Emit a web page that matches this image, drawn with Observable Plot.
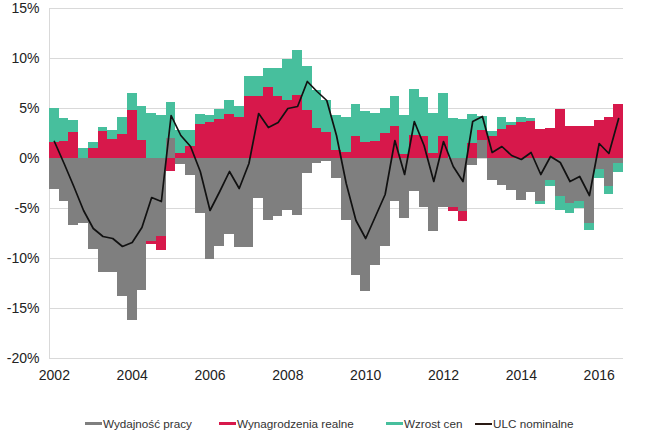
<!DOCTYPE html>
<html><head><meta charset="utf-8">
<script src="https://cdn.jsdelivr.net/npm/d3@7"></script>
<script src="https://cdn.jsdelivr.net/npm/@observablehq/plot@0.6"></script>
<style>
body{margin:0;background:#fff;font-family:"Liberation Sans",Arial,sans-serif;}
#wrap{position:relative;width:671px;height:439px;overflow:hidden;}
.legend{position:absolute;top:414px;left:0;width:671px;height:18px;font-size:11.7px;color:#333;}
.item{position:absolute;top:0;display:flex;align-items:center;height:18px;white-space:nowrap;}
.sw{width:17px;margin-right:1px;margin-top:1px;}
</style></head><body><div id="wrap"></div>
<script>
// categories: quarters 2002 Q1 .. 2016 Q3
const firstYear = 2002, nQuarters = 59;
const quarters = d3.range(nQuarters).map(i => `${firstYear + Math.floor(i / 4)} Q${i % 4 + 1}`);
const tickYears = ["2002","2004","2006","2008","2010","2012","2014","2016"];
const yTicks = [-20, -15, -10, -5, 0, 5, 10, 15];

const seriesNames = ["Wydajność pracy", "Wynagrodzenia realne", "Wzrost cen"];
const lineName = "ULC nominalne";

const wydajnosc = [-3.1,-4.3,-6.7,-6.5,-9.1,-11.4,-11.4,-13.8,-16.2,-13.2,-8.3,-7.8,2.0,-0.6,-1.7,-5.5,-10.1,-8.8,-7.6,-8.9,
  -8.9,-4.0,-6.2,-5.8,-5.2,-5.7,-1.5,-0.5,-0.3,-2.0,-6.2,-11.7,-13.3,-10.7,-8.8,-4.3,-6.0,-3.3,-4.9,-7.3,
  -4.9,-4.9,-5.3,-0.7,1.8,-2.2,-2.7,-3.2,-4.2,-3.4,-4.3,-2.2,-3.8,-4.5,-4.3,-6.5,-1.1,-2.8,-0.5];
const wynagrodzenia = [1.6,1.7,2.6,0.0,1.0,2.7,1.9,2.4,4.8,1.8,-0.3,-1.4,-1.3,0.5,1.2,3.4,3.6,3.9,4.4,4.1,
  6.2,6.2,7.1,6.2,5.8,6.3,4.8,3.0,2.6,0.8,0.6,2.2,1.6,1.7,2.5,3.2,0.4,2.3,2.2,0.5,
  2.2,-0.35,-1.0,1.5,1.0,2.2,2.9,3.3,3.6,3.7,2.9,3.0,4.9,3.2,3.2,3.2,3.8,4.1,5.4];
const wzrostCen = [3.4,2.3,1.2,1.0,0.6,0.4,0.9,1.7,1.7,3.4,4.5,4.3,3.6,2.3,1.6,1.0,0.7,1.0,1.4,1.1,
  2.0,2.0,1.9,2.8,4.1,4.5,4.4,3.8,3.2,3.5,3.5,3.2,3.1,2.8,2.5,3.0,3.9,4.6,3.9,4.0,
  4.3,4.0,3.9,2.9,1.4,0.5,1.2,0.3,0.5,0.3,-0.3,-0.6,-1.4,-1.0,-0.7,-0.7,-0.9,-0.8,-0.9];
const ulcNominalne = [1.7,-0.5,-2.8,-5.2,-7.0,-7.8,-8.0,-8.8,-8.4,-6.9,-3.9,-4.3,4.3,2.3,1.2,-1.3,-5.2,-3.3,-1.3,-3.0,
  -0.5,4.5,3.1,3.6,5.0,5.2,7.7,6.7,5.8,2.3,-2.5,-6.2,-8.0,-5.8,-3.6,1.8,-1.6,3.7,1.3,-2.3,
  1.7,-0.8,-2.3,3.7,4.2,0.6,1.2,0.3,-0.1,0.6,-1.6,0.2,-0.4,-2.3,-1.8,-3.7,1.5,0.5,4.0];

const colors = ["#7f7f7f", "#d7184b", "#47bf9d"];
const lineColor = "#111111";

const seriesValues = [wydajnosc, wynagrodzenia, wzrostCen];
const bars = [];
seriesNames.forEach((s, k) => seriesValues[k].forEach((v, i) => bars.push({q: quarters[i], series: s, value: v})));
const line = ulcNominalne.map((v, i) => ({q: quarters[i], value: v}));
const tickQuarters = tickYears.map(y => `${y} Q1`);

const chart = Plot.plot({
  width: 671, height: 400,
  marginLeft: 49, marginRight: 48, marginTop: 8, marginBottom: 42,
  style: {fontFamily: "'Liberation Sans', Arial, sans-serif", fontSize: "14px", color: "#222", background: "white"},
  x: {type: "band", domain: quarters, padding: 0, round: false, ticks: tickQuarters, tickFormat: q => q.slice(0, 4), tickSize: 0, tickPadding: 12, label: null},
  y: {domain: [-20, 15], ticks: yTicks, tickFormat: d => d + "%", tickSize: 0, tickPadding: 10, label: null},
  color: {domain: seriesNames, range: colors},
  marks: [
    Plot.ruleY(yTicks, {stroke: "#d9d9d9", strokeWidth: 1}),
    Plot.frame({anchor: "left", stroke: "#d9d9d9"}),
    Plot.barY(bars, Plot.stackY({x: "q", y: "value", fill: "series", order: seriesNames, shapeRendering: "crispEdges"})),
    Plot.line(line, {x: "q", y: "value", stroke: lineColor, strokeWidth: 1.7})
  ]
});

const wrap = document.getElementById("wrap");
wrap.appendChild(chart);

const legend = document.createElement("div");
legend.className = "legend";
const items = [
  {name: seriesNames[0], color: colors[0], h: 3, left: 85},
  {name: seriesNames[1], color: colors[1], h: 3, left: 219},
  {name: seriesNames[2], color: colors[2], h: 3, left: 386},
  {name: lineName, color: "#2a1a14", h: 2, left: 475}
];
for (const it of items) {
  const el = document.createElement("div");
  el.className = "item";
  el.style.left = it.left + "px";
  const sw = document.createElement("span");
  sw.className = "sw";
  sw.style.height = it.h + "px";
  sw.style.background = it.color;
  const tx = document.createElement("span");
  tx.textContent = it.name;
  el.appendChild(sw); el.appendChild(tx);
  legend.appendChild(el);
}
wrap.appendChild(legend);
</script></body></html>
